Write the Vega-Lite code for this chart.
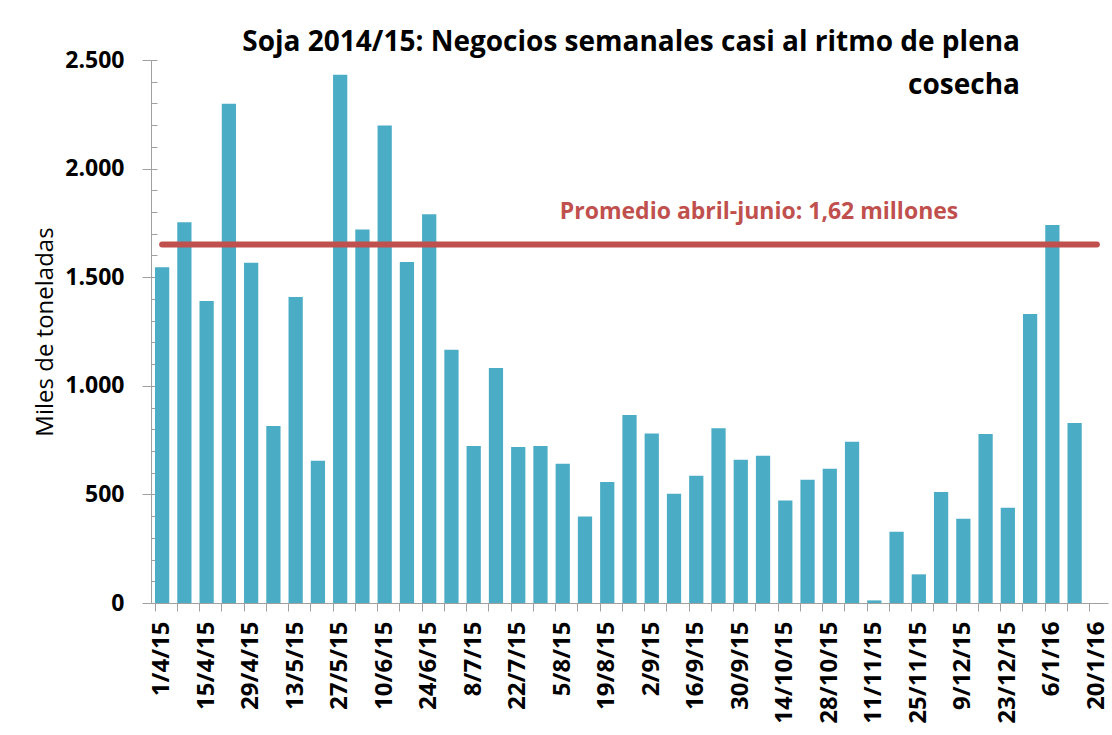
{
  "$schema": "https://vega.github.io/schema/vega-lite/v6.json",
  "width": 957,
  "height": 543,
  "autosize": {"type": "none"},
  "padding": {"left": 151, "top": 60, "right": 4, "bottom": 132},
  "background": "white",
  "title": {
    "text": ["Soja 2014/15: Negocios semanales casi al ritmo de plena", "cosecha"],
    "anchor": "end",
    "align": "right",
    "frame": "group",
    "font": "Open Sans",
    "fontSize": 28,
    "fontWeight": "bold",
    "color": "#000000",
    "lineHeight": 43,
    "dx": -88,
    "dy": 55
  },
  "config": {
    "view": {"stroke": null},
    "axis": {"grid": false}
  },
  "datasets": {
    "semanas": [
      {"fecha": "1/4/15", "valor": 1546},
      {"fecha": "8/4/15", "valor": 1753},
      {"fecha": "15/4/15", "valor": 1390},
      {"fecha": "22/4/15", "valor": 2298},
      {"fecha": "29/4/15", "valor": 1567},
      {"fecha": "6/5/15", "valor": 815},
      {"fecha": "13/5/15", "valor": 1409},
      {"fecha": "20/5/15", "valor": 655},
      {"fecha": "27/5/15", "valor": 2432},
      {"fecha": "3/6/15", "valor": 1720},
      {"fecha": "10/6/15", "valor": 2198},
      {"fecha": "17/6/15", "valor": 1570},
      {"fecha": "24/6/15", "valor": 1790},
      {"fecha": "1/7/15", "valor": 1166},
      {"fecha": "8/7/15", "valor": 723},
      {"fecha": "15/7/15", "valor": 1082},
      {"fecha": "22/7/15", "valor": 718},
      {"fecha": "29/7/15", "valor": 723},
      {"fecha": "5/8/15", "valor": 641},
      {"fecha": "12/8/15", "valor": 398},
      {"fecha": "19/8/15", "valor": 557},
      {"fecha": "26/8/15", "valor": 866},
      {"fecha": "2/9/15", "valor": 780},
      {"fecha": "9/9/15", "valor": 503},
      {"fecha": "16/9/15", "valor": 586},
      {"fecha": "23/9/15", "valor": 805},
      {"fecha": "30/9/15", "valor": 660},
      {"fecha": "7/10/15", "valor": 678},
      {"fecha": "14/10/15", "valor": 472},
      {"fecha": "21/10/15", "valor": 568},
      {"fecha": "28/10/15", "valor": 618},
      {"fecha": "4/11/15", "valor": 742},
      {"fecha": "11/11/15", "valor": 12},
      {"fecha": "18/11/15", "valor": 328},
      {"fecha": "25/11/15", "valor": 132},
      {"fecha": "2/12/15", "valor": 511},
      {"fecha": "9/12/15", "valor": 388},
      {"fecha": "16/12/15", "valor": 778},
      {"fecha": "23/12/15", "valor": 438},
      {"fecha": "30/12/15", "valor": 1331},
      {"fecha": "6/1/16", "valor": 1740},
      {"fecha": "13/1/16", "valor": 829}
    ],
    "promedio": [
      {"desde": "1/4/15", "hasta": "20/1/16", "valor": 1650, "texto": "Promedio abril-junio: 1,62 millones", "fecha_texto": "7/10/15"}
    ]
  },
  "layer": [
    {
      "data": {"name": "semanas"},
      "mark": {"type": "bar", "color": "#4BACC6"},
      "encoding": {
        "x": {
          "field": "fecha",
          "type": "ordinal",
          "sort": null,
          "scale": {
            "domain": ["1/4/15","8/4/15","15/4/15","22/4/15","29/4/15","6/5/15","13/5/15","20/5/15","27/5/15","3/6/15","10/6/15","17/6/15","24/6/15","1/7/15","8/7/15","15/7/15","22/7/15","29/7/15","5/8/15","12/8/15","19/8/15","26/8/15","2/9/15","9/9/15","16/9/15","23/9/15","30/9/15","7/10/15","14/10/15","21/10/15","28/10/15","4/11/15","11/11/15","18/11/15","25/11/15","2/12/15","9/12/15","16/12/15","23/12/15","30/12/15","6/1/16","13/1/16","20/1/16"],
            "paddingInner": 0.36,
            "paddingOuter": 0.18
          },
          "axis": {
            "orient": "bottom",
            "title": null,
            "values": ["1/4/15","15/4/15","29/4/15","13/5/15","27/5/15","10/6/15","24/6/15","8/7/15","22/7/15","5/8/15","19/8/15","2/9/15","16/9/15","30/9/15","14/10/15","28/10/15","11/11/15","25/11/15","9/12/15","23/12/15","6/1/16","20/1/16"],
            "ticks": false,
            "labelAngle": -90,
            "labelFont": "Open Sans",
            "labelFontSize": 24,
            "labelFontWeight": "bold",
            "labelColor": "#000000",
            "labelPadding": 18,
            "labelOverlap": false,
            "domainColor": "#A0A0A0",
            "domainWidth": 1
          }
        },
        "y": {
          "field": "valor",
          "type": "quantitative",
          "scale": {"domain": [0, 2500], "nice": false},
          "axis": {
            "orient": "left",
            "title": "Miles de toneladas",
            "titleFont": "Open Sans",
            "titleFontSize": 24,
            "titleFontWeight": "normal",
            "titleColor": "#000000",
            "titlePadding": 7,
            "values": [0, 500, 1000, 1500, 2000, 2500],
            "labelExpr": "replace(format(datum.value, ','), ',', '.')",
            "labelFont": "Open Sans",
            "labelFontSize": 23,
            "labelFontWeight": "bold",
            "labelColor": "#000000",
            "labelPadding": 18,
            "tickSize": 9,
            "tickColor": "#A0A0A0",
            "domainColor": "#A0A0A0",
            "domainWidth": 1
          }
        }
      }
    },
    {
      "data": {"name": "promedio"},
      "mark": {"type": "rule", "color": "#C0504D", "strokeWidth": 6, "strokeCap": "round"},
      "encoding": {
        "x": {
          "field": "desde",
          "type": "ordinal",
          "axis": {
            "orient": "bottom",
            "title": null,
            "labels": false,
            "domain": false,
            "ticks": true,
            "bandPosition": 0,
            "tickSize": 8,
            "tickColor": "#A0A0A0"
          }
        },
        "x2": {"field": "hasta"},
        "y": {
          "field": "valor",
          "type": "quantitative",
          "axis": {
            "orient": "left",
            "title": null,
            "labels": false,
            "domain": false,
            "values": [0,100,200,300,400,500,600,700,800,900,1000,1100,1200,1300,1400,1500,1600,1700,1800,1900,2000,2100,2200,2300,2400,2500],
            "tickSize": -6,
            "tickColor": "#A0A0A0"
          }
        }
      }
    },
    {
      "data": {"name": "promedio"},
      "mark": {"type": "text", "color": "#C0504D", "font": "Open Sans", "fontSize": 23, "fontWeight": "bold", "align": "center", "baseline": "alphabetic", "dy": -26, "dx": -4},
      "encoding": {
        "x": {"field": "fecha_texto", "type": "ordinal", "axis": null},
        "y": {"field": "valor", "type": "quantitative", "axis": null},
        "text": {"field": "texto"}
      }
    }
  ],
  "resolve": {"axis": {"x": "independent", "y": "independent"}}
}
